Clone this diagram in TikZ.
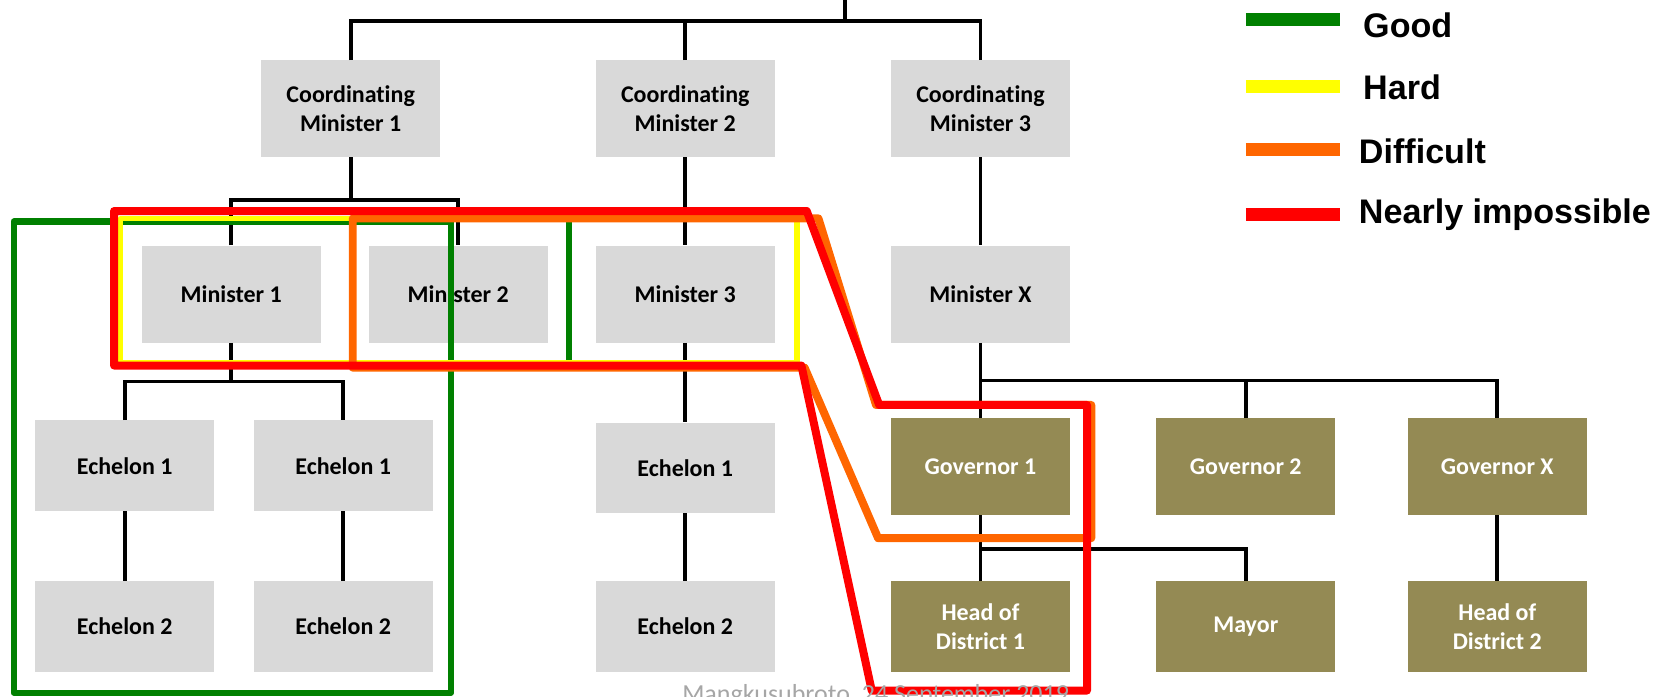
\documentclass[tikz,border=0pt]{standalone}
\usepackage{fontspec}
\setmainfont{Carlito}[Ligatures=NoCommon]
\newfontfamily\legendfont{Liberation Sans}
\definecolor{boxgrey}{HTML}{D9D9D9}
\definecolor{boxolive}{HTML}{948A54}
\definecolor{cgood}{HTML}{008000}
\definecolor{chard}{HTML}{FFFF00}
\definecolor{cdiff}{HTML}{FF6600}
\definecolor{cimposs}{HTML}{FF0000}
\definecolor{footgrey}{HTML}{A6A6A6}
\begin{document}
\begin{tikzpicture}[x=1pt,y=-1pt,
  gbox/.style={rectangle, fill=boxgrey, minimum width=168pt, minimum height=91pt, inner sep=0pt, align=center, font=\bfseries\fontsize{22.5}{27}\selectfont, text=black},
  lowbox/.style={minimum height=85pt},
  obox/.style={gbox, fill=boxolive, text=white},
  conn/.style={line width=3.6pt, black},
  frame/.style={line width=7.5pt, line join=round},
  legbar/.style={line width=12pt},
  legtext/.style={anchor=base west, inner sep=0pt, font=\legendfont\bfseries\fontsize{32}{38}\selectfont}
]
\useasboundingbox (0,0) rectangle (1568,654);

% boxes
\node[gbox] (cm1) at (329,102) {Coordinating\\Minister 1};
\node[gbox] (cm2) at (643,102) {Coordinating\\Minister 2};
\node[gbox] (cm3) at (920,102) {Coordinating\\Minister 3};

\node[gbox] (m1) at (217,276) {Minister 1};
\node[gbox] (m2) at (430,276) {Minister 2};
\node[gbox] (m3) at (643,276) {Minister 3};
\node[gbox] (mx) at (920,276) {Minister X};

\node[gbox,lowbox] (e1a) at (117,437) {Echelon 1};
\node[gbox,lowbox] (e1b) at (322,437) {Echelon 1};
\node[gbox,lowbox] (e1c) at (643,439) {Echelon 1};
\node[gbox,lowbox] (e2a) at (117,588) {Echelon 2};
\node[gbox,lowbox] (e2b) at (322,588) {Echelon 2};
\node[gbox,lowbox] (e2c) at (643,588) {Echelon 2};

\node[obox] (gov1) at (920,438) {Governor 1};
\node[obox] (gov2) at (1169,438) {Governor 2};
\node[obox] (govx) at (1405,438) {Governor X};
\node[obox,lowbox] (hod1) at (920,588) {Head of\\District 1};
\node[obox,lowbox] (mayor) at (1169,588) {Mayor};
\node[obox,lowbox] (hod2) at (1405,588) {Head of\\District 2};

% connectors
\coordinate (root) at (793,-10);
\coordinate (bar0) at (0,20);
\coordinate (bar1) at (0,188);
\coordinate (bar2) at (0,358);
\coordinate (bar3) at (0,357);
\coordinate (bar4) at (0,515);

\draw[conn] (root) -- (root |- bar0);
\draw[conn] (cm1.north) -- (cm1.north |- bar0) -- (cm3.north |- bar0) -- (cm3.north);
\draw[conn] (cm2.north) -- (cm2.north |- bar0);

\draw[conn] (cm1.south) -- (cm1.south |- bar1);
\draw[conn] (m1.north) -- (m1.north |- bar1) -- (m2.north |- bar1) -- (m2.north);
\draw[conn] (cm2.south) -- (m3.north);
\draw[conn] (cm3.south) -- (mx.north);

\draw[conn] (m1.south) -- (m1.south |- bar2);
\draw[conn] (e1a.north) -- (e1a.north |- bar2) -- (e1b.north |- bar2) -- (e1b.north);
\draw[conn] (e1a.south) -- (e2a.north);
\draw[conn] (e1b.south) -- (e2b.north);
\draw[conn] (m3.south) -- (e1c.north);
\draw[conn] (e1c.south) -- (e2c.north);

\draw[conn] (mx.south) -- (gov1.north);
\draw[conn] (mx.south |- bar3) -- (govx.north |- bar3) -- (govx.north);
\draw[conn] (gov2.north) -- (gov2.north |- bar3);
\draw[conn] (gov1.south) -- (hod1.north);
\draw[conn] (gov1.south |- bar4) -- (mayor.north |- bar4) -- (mayor.north);
\draw[conn] (govx.south) -- (hod2.north);

% difficulty frames
\draw[frame, cgood, line width=6pt] (13,208) rectangle (423,650);
\draw[frame, cgood, line width=6pt] (534,206) -- (534,340);
\draw[frame, chard, line width=5pt] (113,205) rectangle (748,340);
\draw[frame, cdiff] (331,205) -- (768,205) -- (822,380) -- (1024,380) -- (1024,505) -- (824,505) -- (755,345) -- (331,345) -- cycle;
\draw[frame, cimposs] (107,198) -- (757,198) -- (825,380) -- (1020,380) -- (1020,648) -- (818,648) -- (752,343) -- (107,343) -- cycle;

% legend
\draw[legbar, cgood] (1169,18) -- (1257,18);
\draw[legbar, chard] (1169,81) -- (1257,81);
\draw[legbar, cdiff] (1169,140) -- (1257,140);
\draw[legbar, cimposs] (1169,201) -- (1257,201);
\node[legtext] (lgood) at (1279,35) {Good};
\node[legtext] (lhard) at (1279,93) {Hard};
\node[legtext] (ldiff) at (1275,153) {Difficult};
\node[legtext] (limp) at (1275,210) {Nearly impossible};

% footer
\node[anchor=base west, inner sep=0pt, text=footgrey, font=\fontsize{24.4}{28}\selectfont] (foot) at (640,659) {Mangkusubroto, 24 September 2019};
\end{tikzpicture}
\end{document}
